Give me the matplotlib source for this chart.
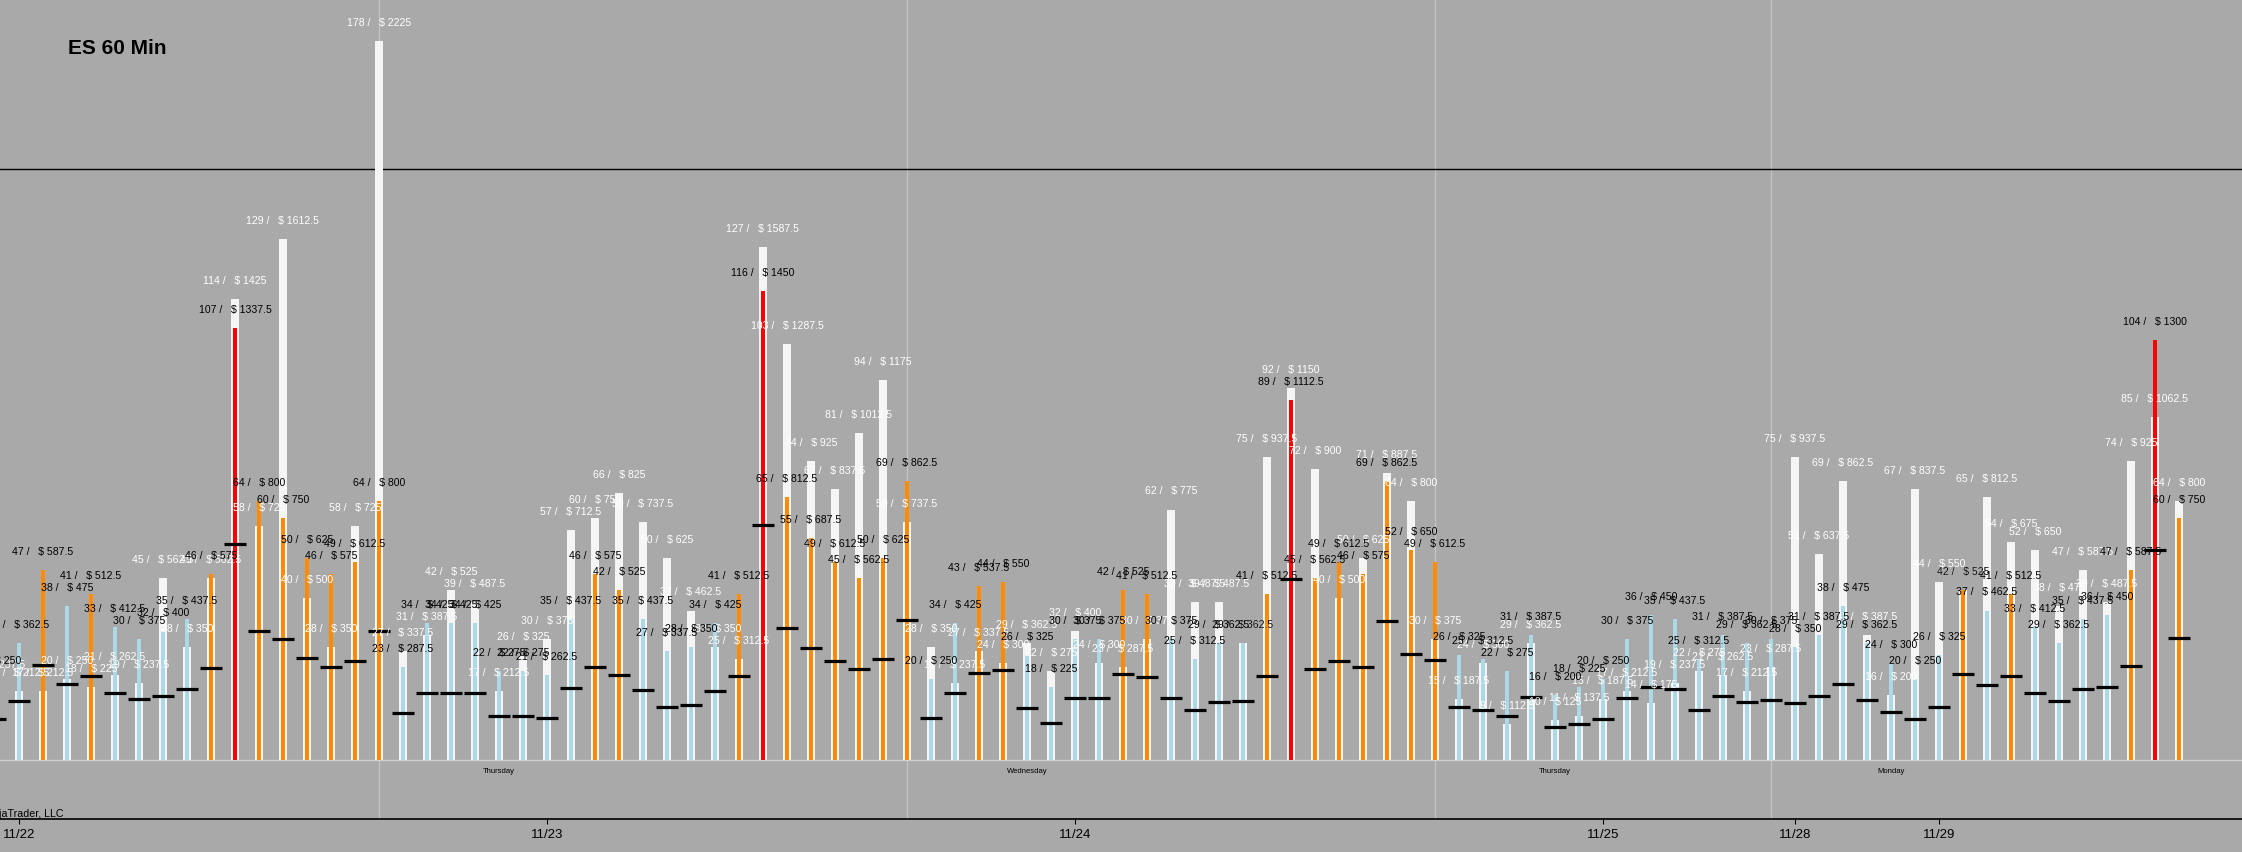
import numpy as np
import matplotlib
matplotlib.use("Agg")
import matplotlib.pyplot as plt

plt.rcParams['font.family'] = ['Liberation Sans', 'DejaVu Sans']

# hourly slots (slot -1 is partly off the left edge)
slots = np.arange(-1, 91)

# white bars (count)
white_counts = [19,
    17, 17, 20, 18, 21, 19, 45, 28, 45, 114,
    58, 129, 40, 28, 58, 178, 27, 31, 42, 39,
    17, 26, 30, 57, 60, 66, 59, 50, 37, 28,
    25, 127, 103, 74, 67, 81, 94, 59, 28, 19,
    27, 24, 29, 22, 32, 24, 23, 30, 62, 39,
    39, 29, 75, 92, 72, 40, 50, 71, 64, 30,
    15, 24, 9, 29, 10, 11, 15, 17, 14, 19,
    22, 21, 17, 23, 75, 51, 69, 31, 16, 67,
    44, 42, 65, 54, 52, 38, 47, 39, 74, 85, 64]

# coloured bars (count)
bar_counts = [20,
    29, 47, 38, 41, 33, 30, 32, 35, 46, 107,
    64, 60, 50, 46, 49, 64, 23, 34, 34, 34,
    22, 22, 21, 35, 46, 42, 35, 27, 28, 34,
    41, 116, 65, 55, 49, 45, 50, 69, 20, 34,
    43, 44, 26, 18, 30, 30, 42, 41, 30, 25,
    29, 29, 41, 89, 45, 49, 46, 69, 52, 49,
    26, 25, 22, 31, 16, 18, 20, 30, 36, 35,
    25, 31, 29, 30, 28, 31, 38, 29, 24, 20,
    26, 42, 37, 41, 33, 29, 35, 36, 47, 104, 60]

# black dash marks
avg_marks = [10.1,
    14.5, 23.5, 18.7, 20.7, 16.5, 15.0, 15.8, 17.5, 22.8, 53.4,
    31.9, 30.0, 25.2, 22.9, 24.4, 31.9, 11.6, 16.7, 16.7, 16.7,
    10.8, 10.8, 10.3, 17.7, 22.9, 21.0, 17.4, 13.2, 13.7, 17.0,
    20.7, 58.1, 32.6, 27.7, 24.5, 22.5, 24.9, 34.6, 10.3, 16.7,
    21.5, 22.2, 12.8, 9.1, 15.3, 15.3, 21.2, 20.5, 15.3, 12.3,
    14.3, 14.5, 20.7, 44.8, 22.5, 24.4, 22.9, 34.3, 26.2, 24.7,
    13.0, 12.3, 10.8, 15.5, 8.1, 8.9, 10.1, 15.3, 18.1, 17.6,
    12.5, 15.8, 14.3, 14.8, 14.0, 15.8, 18.7, 14.8, 12.0, 10.1,
    13.0, 21.2, 18.5, 20.7, 16.5, 14.5, 17.5, 18.0, 23.2, 51.9, 30.1]

tick_slots = [0, 22, 44, 66, 74, 80]
tick_labels = ['11/22', '11/23', '11/24', '11/25', '11/28', '11/29']
session_breaks = [15, 37, 59, 73]
day_slots = [20, 42, 64, 78]
day_names = ['Thursday', 'Wednesday', 'Thursday', 'Monday']
ref_level = 146.3
tick_value = 12.5

BG = '#a9a9a9'

def bar_color(v):
    if v >= 80:
        return '#ff0000'
    if v >= 40:
        return '#ff8c00'
    return '#add8e6'

def label(n):
    return f"{n} /   $ {n * tick_value:g}"

W, H = 2242, 853
fig = plt.figure(figsize=(W / 100, H / 100), dpi=100, facecolor=BG)
ax = fig.add_axes([0, (H - 820) / H, 1, 820 / H])
ax.set_facecolor(BG)

ax.set_xlim(-19 / 24, (W - 19) / 24)
ax.set_ylim(-(820 - 761) / 4.04, 761 / 4.04)

ax.axhline(0, color='#d0d0d0', lw=1, zorder=1)
for s in session_breaks:
    ax.axvline(s, color='#c4c4c4', lw=0.9, zorder=0.5)
ax.axhline(ref_level, color='black', lw=1, zorder=1)

colors = [bar_color(v) for v in bar_counts]
ax.bar(slots, white_counts, width=0.33, color='#f5f5f5', zorder=2)
ax.bar(slots, bar_counts, width=0.13, color=colors, zorder=3)
ax.hlines(avg_marks, slots - 0.46, slots + 0.46, color='black', lw=2.3, zorder=4)

for x, n in zip(slots, white_counts):
    ax.annotate(label(n), (x, n), xytext=(0, 13.7), textcoords='offset points',
                ha='center', va='center', fontsize=7.6, color='white', zorder=5,
                annotation_clip=False)
for x, n in zip(slots, bar_counts):
    ax.annotate(label(n), (x, n), xytext=(0, 13.7), textcoords='offset points',
                ha='center', va='center', fontsize=7.6, color='black', zorder=6,
                annotation_clip=False)

for x, name in zip(day_slots, day_names):
    ax.text(x, -2.5, name, ha='center', va='center', fontsize=5.5, color='black')

ax.set_yticks([])
ax.set_xticks(tick_slots)
ax.set_xticklabels(tick_labels, fontsize=9.5)
ax.tick_params(axis='x', direction='out', length=3.6, width=0.8, pad=3, colors='black')
for side in ['top', 'left', 'right']:
    ax.spines[side].set_visible(False)
ax.spines['bottom'].set_color('black')
ax.spines['bottom'].set_linewidth(1.2)

fig.text(68 / W, 1 - 49 / H, 'ES 60 Min', fontsize=15, fontweight='bold',
         ha='left', va='center', color='black')
fig.text(63 / W, 1 - 814 / H, '\u00a9 NinjaTrader, LLC', fontsize=7.7,
         ha='right', va='center', color='black')

fig.savefig('out.png', dpi=100, facecolor=BG)
